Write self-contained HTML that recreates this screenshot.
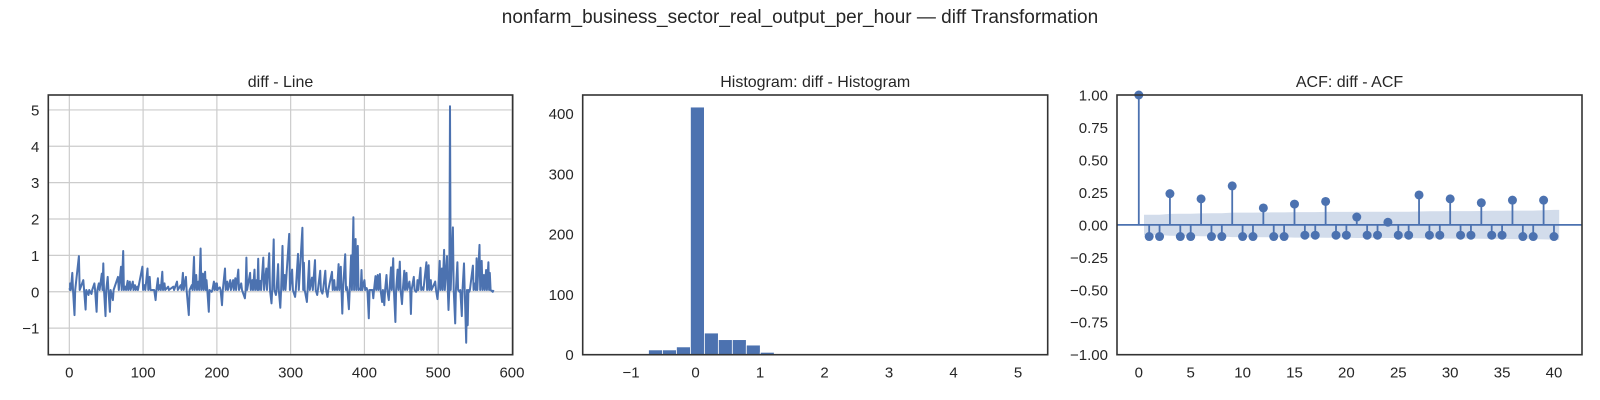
<!DOCTYPE html>
<html><head><meta charset="utf-8">
<style>
html,body{margin:0;padding:0;background:#fff;}
svg{display:block;font-family:"Liberation Sans",Arial,sans-serif;}
</style></head>
<body>
<svg id="fig" width="1600" height="400" viewBox="0 0 1600 400">
<text x="800" y="23" text-anchor="middle" font-size="19" fill="#262626">nonfarm_business_sector_real_output_per_hour — diff Transformation</text>
</svg>
<script>
// ---- Line panel data ----
const lineIdx = [0,1,4,7,13,19,22,26,30,34,37,40,44,46,49,52,55,59,66,70,73,76,79,82,86,89,92,99,102,106,109,114,117,120,123,126,129,134,141,146,151,154,158,162,166,169,172,175,178,181,184,186,189,193,196,200,
199,204,207,211,214,218,222,225,229,233,238,240,245,248,251,254,256,259,263,267,271,274,277,280,283,286,289,292,298,302,306,310,316,318,322,325,329,333,336,340,343,347,350,356,359,362,365,368,370,374,376,379,382,385,388,391,394,396,400,403,406,409,
410,412,415,418,421,424,427,430,433,436,439,442,445,448,451,454,457,461,463,467,470,472,476,479,484,487,490,496,499,502,505,508,512,514,516,520,523,526,529,532,535,538,540,542,547,550,552,556,559,562,565,568,570,574];
const lineVal = [0.1,0.23,0.52,-0.64,0.98,0.32,-0.49,-0.09,-0.06,0.23,-0.55,0.23,0.5,0.78,-0.67,0.41,-0.55,-0.23,0.41,0.69,1.12,0.14,0.3,0.28,0.28,0.18,0.14,0.69,0.18,0.64,0.41,0.05,-0.23,0.37,0.18,0.55,0.23,0.14,0.14,0.28,0.18,0.52,0.41,-0.64,0.18,0.96,0.46,0.28,1.19,0.5,0.55,0.32,-0.55,0.0,0.28,0.23,
0.23,0.12,-0.37,0.64,0.28,0.32,0.32,0.37,0.61,0.23,-0.18,0.94,0.52,0.32,0.61,0.32,0.91,0.3,0.94,0.64,1.06,-0.32,1.44,-0.09,0.76,-0.44,1.26,0.46,1.59,0.61,-0.14,1.04,1.76,0.8,-0.28,0.85,0.39,0.87,-0.09,0.58,-0.05,0.58,-0.14,0.55,0.32,0.12,0.76,0.69,-0.6,1.03,0.14,-0.48,1.0,2.05,1.45,1.26,0.09,0.6,0.32,0.1,-0.73,0.05,
0.05,-0.18,0.43,0.46,0.49,-0.28,-0.37,0.46,-0.23,0.67,0.92,-0.83,0.61,0.83,-0.34,0.58,0.52,0.28,-0.61,0.41,0.0,0.32,0.66,0.12,0.81,0.73,0.32,0.28,-0.2,0.85,0.64,1.15,0.98,-0.5,5.1,1.77,-0.87,0.81,0.0,-0.67,0.78,-1.4,-0.92,0.0,0.72,0.23,0.92,1.29,0.85,0.46,0.6,0.81,0.52,0.0];
const lineBase = 0.05;
const lineXTicks = [0,100,200,300,400,500,600];
const lineYTicks = [-1,0,1,2,3,4,5];
// ---- Histogram data ----
const histStart = -1.38;
const histBinWidth = 0.2167;
const histCounts = [1,0,1,8,8,13,411,36,25,25,16,4,1,0,0,0,0,0,0,0,0,0,0,0,0,0,0,0,0,1];
const histXTicks = [-1,0,1,2,3,4,5];
const histYTicks = [0,100,200,300,400];
// ---- ACF data ----
const acfLags = [0,1,2,3,4,5,6,7,8,9,10,11,12,13,14,15,16,17,18,19,20,21,22,23,24,25,26,27,28,29,30,31,32,33,34,35,36,37,38,39,40];
const acfVals = [1,-0.09,-0.09,0.24,-0.09,-0.09,0.20,-0.09,-0.09,0.30,-0.09,-0.09,0.13,-0.09,-0.09,0.16,-0.08,-0.08,0.18,-0.08,-0.08,0.06,-0.08,-0.08,0.02,-0.08,-0.08,0.23,-0.08,-0.08,0.20,-0.08,-0.08,0.17,-0.08,-0.08,0.19,-0.09,-0.09,0.19,-0.09];
const acfConf = [0.077,0.078,0.078,0.084,0.085,0.085,0.088,0.089,0.089,0.094,0.094,0.094,0.095,0.096,0.096,0.098,0.098,0.098,0.100,0.100,0.100,0.101,0.101,0.101,0.101,0.101,0.101,0.103,0.104,0.104,0.106,0.106,0.106,0.107,0.108,0.108,0.110,0.110,0.110,0.112,0.115];
const acfXTicks = [0,5,10,15,20,25,30,35,40];
const acfYTicks = [-1,-0.75,-0.5,-0.25,0,0.25,0.5,0.75,1];

const NS="http://www.w3.org/2000/svg";
const svg=document.getElementById('fig');
const BLUE="#4c72b0";
function mk(tag,attrs,parent){const e=document.createElementNS(NS,tag);for(const k in attrs)e.setAttribute(k,attrs[k]);(parent||svg).appendChild(e);return e;}
function scale(d0,d1,r0,r1){return v=>r0+(v-d0)/(d1-d0)*(r1-r0);}
const TOP=95,BOT=354.7;

function panel(name,L,R,xd,yd,title,xt,yt,fmtY,grid){
  const g=mk('g',{});
  
  
  const x=scale(xd[0],xd[1],L,R), y=scale(yd[0],yd[1],BOT,TOP);
  if(grid){
    xt.forEach(v=>{const l=mk('line',{x1:x(v),x2:x(v),y1:TOP,y2:BOT,stroke:'#cccccc','stroke-width':1.2},g);});
    yt.forEach(v=>{const l=mk('line',{x1:L,x2:R,y1:y(v),y2:y(v),stroke:'#cccccc','stroke-width':1.2},g);});
  }
  xt.forEach(v=>{const t=mk('text',{x:x(v),y:BOT+23,'text-anchor':'middle','font-size':15,fill:'#262626'},g);t.textContent=(v<0?'\u2212'+(-v):String(v));});
  yt.forEach(v=>{const t=mk('text',{x:L-9,y:y(v)+5.5,'text-anchor':'end','font-size':15,fill:'#262626'},g);t.textContent=fmtY(v);});
  const tt=mk('text',{x:(L+R)/2,y:TOP-8,'text-anchor':'middle','font-size':16,fill:'#262626'},g);tt.textContent=title;
  
  
  return {g,x,y,L,R};
}
function frame(p){const r=mk('rect',{x:p.L,y:TOP,width:p.R-p.L,height:BOT-TOP,fill:'none',stroke:'#333','stroke-width':1.6},p.g);}
const neg=v=>v<0?'\u2212'+String(-v):String(v);

// Panel 1 line
const p1=panel('line-panel',48.3,512.7,[-28.5,601],[-1.73,5.41],'diff - Line',lineXTicks,lineYTicks,neg,true);
let d='';
lineIdx.forEach((v,i)=>{
  d+=(i?'L':'M')+p1.x(v).toFixed(1)+','+p1.y(lineVal[i]).toFixed(1);
  d+='L'+p1.x(v+1).toFixed(1)+','+p1.y(lineBase).toFixed(1);
});
const pl=mk('path',{d:d,fill:'none',stroke:BLUE,'stroke-width':2,'stroke-linejoin':'round'},p1.g);


frame(p1);

// Panel 2 histogram
const p2=panel('histogram-panel',582.7,1047.7,[-1.75,5.46],[0,431],'Histogram: diff - Histogram',histXTicks,histYTicks,v=>String(v),false);
histCounts.forEach((c,i)=>{const x0=p2.x(histStart+i*histBinWidth),x1=p2.x(histStart+(i+1)*histBinWidth);
  const r=mk('rect',{x:x0,y:p2.y(c),width:x1-x0,height:p2.y(0)-p2.y(c),fill:BLUE,stroke:'#fff','stroke-width':0.8},p2.g);
  
  });
frame(p2);

// Panel 3 ACF
const p3=panel('acf-panel',1117,1582,[-2.1,42.7],[-1,1],'ACF: diff - ACF',acfXTicks,acfYTicks,v=>(v<0?'\u2212':'')+Math.abs(v).toFixed(2),false);
let up='',lo='';
for(let i=1;i<acfLags.length;i++){up+=(i>1?'L':'M')+p3.x(acfLags[i]-(i==1?0.5:0)).toFixed(1)+','+p3.y(acfConf[i]).toFixed(1);}
up+='L'+p3.x(40.5).toFixed(1)+','+p3.y(acfConf[40]).toFixed(1);
for(let i=acfLags.length-1;i>=1;i--){lo+='L'+p3.x(acfLags[i]+(i==40?0.5:0)).toFixed(1)+','+p3.y(-acfConf[i]).toFixed(1);}
lo+='L'+p3.x(0.5).toFixed(1)+','+p3.y(-acfConf[1]).toFixed(1)+'Z';
const band=mk('path',{d:up+lo,fill:BLUE,'fill-opacity':0.25,stroke:'none'},p3.g);


const zl=mk('line',{x1:p3.L,x2:p3.R,y1:p3.y(0),y2:p3.y(0),stroke:BLUE,'stroke-width':1.8},p3.g);


acfLags.forEach((l,i)=>{
  const s=mk('line',{x1:p3.x(l),x2:p3.x(l),y1:p3.y(0),y2:p3.y(acfVals[i]),stroke:BLUE,'stroke-width':1.8},p3.g);
  
  
  const c=mk('circle',{cx:p3.x(l),cy:p3.y(acfVals[i]),r:4.5,fill:BLUE},p3.g);
  
  
});
frame(p3);
</script>
</body></html>
